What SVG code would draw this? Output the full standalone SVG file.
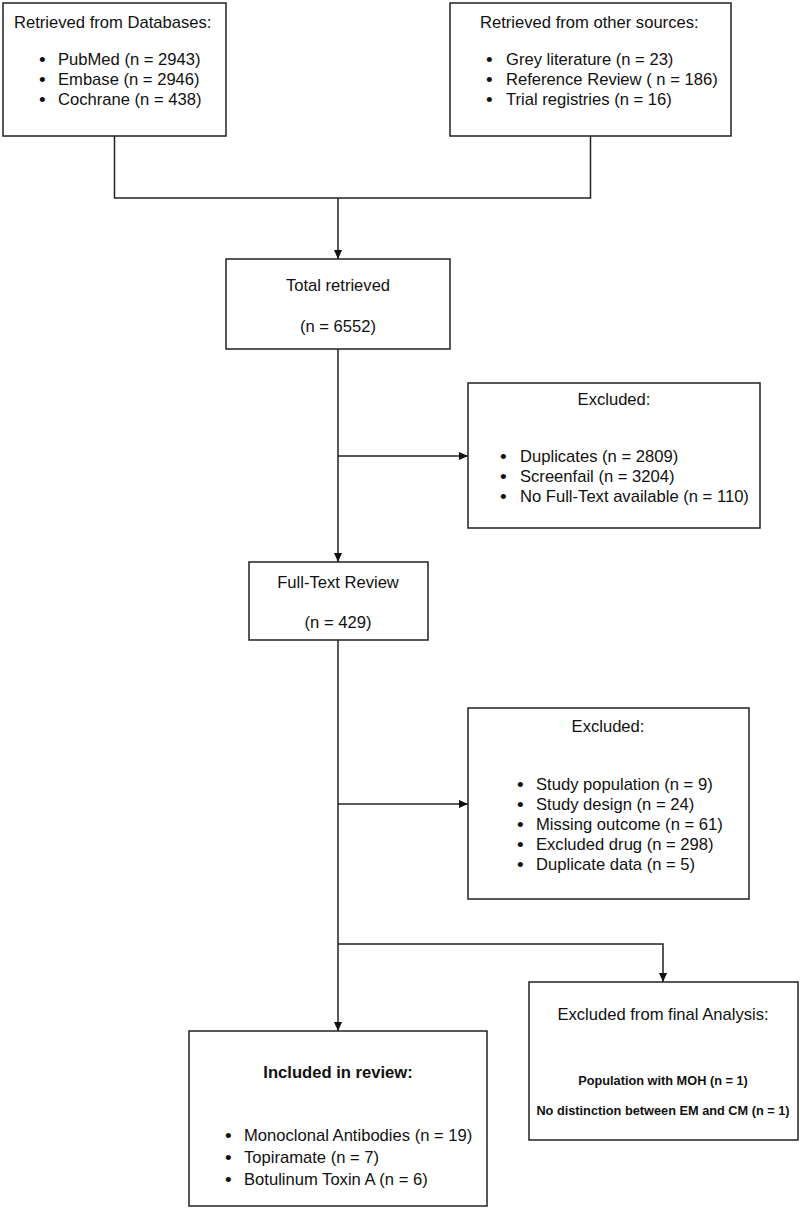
<svg xmlns="http://www.w3.org/2000/svg" width="800" height="1215" viewBox="0 0 800 1215">
<defs>
<marker id="arr" viewBox="0 0 10 10" refX="10" refY="5" markerWidth="9" markerHeight="9" markerUnits="userSpaceOnUse" orient="auto">
<path d="M0,0.5 L10,5 L0,9.5 z" fill="#111"/>
</marker>
<style>
.box{fill:#fff;stroke:#222;stroke-width:1.5}
.t{font-family:"Liberation Sans",Arial,sans-serif;font-size:16.6px;fill:#111}
.d{font-family:"Liberation Sans",Arial,sans-serif;font-size:19px;fill:#111}
.c{text-anchor:middle}
.b{font-weight:bold}
.s{font-family:"Liberation Sans",Arial,sans-serif;font-size:12.75px;font-weight:bold;fill:#111;text-anchor:middle}
.ln{fill:none;stroke:#222;stroke-width:1.5}
</style>
</defs>
<rect width="800" height="1215" fill="#fff"/>
<g id="connectors">
<path class="ln" d="M114.5,136 V198 H590.5 V136"/>
<path class="ln" d="M338,198 V259" marker-end="url(#arr)"/>
<path class="ln" d="M338,349 V562" marker-end="url(#arr)"/>
<path class="ln" d="M338,456 H468" marker-end="url(#arr)"/>
<path class="ln" d="M338,640 V1031" marker-end="url(#arr)"/>
<path class="ln" d="M338,804 H468" marker-end="url(#arr)"/>
<path class="ln" d="M338,944 H663 V982" marker-end="url(#arr)"/>
</g>
<g id="databases">
<rect class="box" x="3" y="3" width="223" height="133"/>
<text class="t" x="14" y="28">Retrieved from Databases:</text>
<text class="d" x="39" y="66">•</text><text class="t" x="58" y="65">PubMed (n = 2943)</text>
<text class="d" x="39" y="86">•</text><text class="t" x="58" y="85">Embase (n = 2946)</text>
<text class="d" x="39" y="106">•</text><text class="t" x="58" y="105">Cochrane (n = 438)</text>
</g>
<g id="other">
<rect class="box" x="450" y="3" width="281" height="133"/>
<text class="t" x="480" y="28">Retrieved from other sources:</text>
<text class="d" x="486" y="66">•</text><text class="t" x="506" y="65">Grey literature (n = 23)</text>
<text class="d" x="486" y="86">•</text><text class="t" x="506" y="85">Reference Review ( n = 186)</text>
<text class="d" x="486" y="106">•</text><text class="t" x="506" y="105">Trial registries (n = 16)</text>
</g>
<g id="total">
<rect class="box" x="226" y="259" width="224" height="90"/>
<text class="t c" x="338" y="291">Total retrieved</text>
<text class="t c" x="338" y="332">(n = 6552)</text>
</g>
<g id="excluded1">
<rect class="box" x="468" y="383" width="292" height="145"/>
<text class="t c" x="614" y="405">Excluded:</text>
<text class="d" x="500" y="463">•</text><text class="t" x="520" y="462">Duplicates (n = 2809)</text>
<text class="d" x="500" y="483">•</text><text class="t" x="520" y="482">Screenfail (n = 3204)</text>
<text class="d" x="500" y="503">•</text><text class="t" x="520" y="502">No Full-Text available (n = 110)</text>
</g>
<g id="fulltext">
<rect class="box" x="249" y="562" width="179" height="78"/>
<text class="t c" x="338" y="588">Full-Text Review</text>
<text class="t c" x="338" y="628">(n = 429)</text>
</g>
<g id="excluded2">
<rect class="box" x="468" y="708" width="281" height="191"/>
<text class="t c" x="608" y="732">Excluded:</text>
<text class="d" x="517" y="791">•</text><text class="t" x="536" y="790">Study population (n = 9)</text>
<text class="d" x="517" y="811">•</text><text class="t" x="536" y="810">Study design (n = 24)</text>
<text class="d" x="517" y="831">•</text><text class="t" x="536" y="830">Missing outcome (n = 61)</text>
<text class="d" x="517" y="851">•</text><text class="t" x="536" y="850">Excluded drug (n = 298)</text>
<text class="d" x="517" y="871">•</text><text class="t" x="536" y="870">Duplicate data (n = 5)</text>
</g>
<g id="included">
<rect class="box" x="189" y="1031" width="298" height="175"/>
<text class="t c b" x="338" y="1078">Included in review:</text>
<text class="d" x="225" y="1142">•</text><text class="t" x="244" y="1141">Monoclonal Antibodies (n = 19)</text>
<text class="d" x="225" y="1164">•</text><text class="t" x="244" y="1163">Topiramate (n = 7)</text>
<text class="d" x="225" y="1186">•</text><text class="t" x="244" y="1185">Botulinum Toxin A (n = 6)</text>
</g>
<g id="final">
<rect class="box" x="529" y="982" width="269" height="158"/>
<text class="t c" x="663" y="1020">Excluded from final Analysis:</text>
<text class="s" x="663" y="1085">Population with MOH (n = 1)</text>
<text class="s" x="663" y="1115">No distinction between EM and CM (n = 1)</text>
</g>
</svg>
